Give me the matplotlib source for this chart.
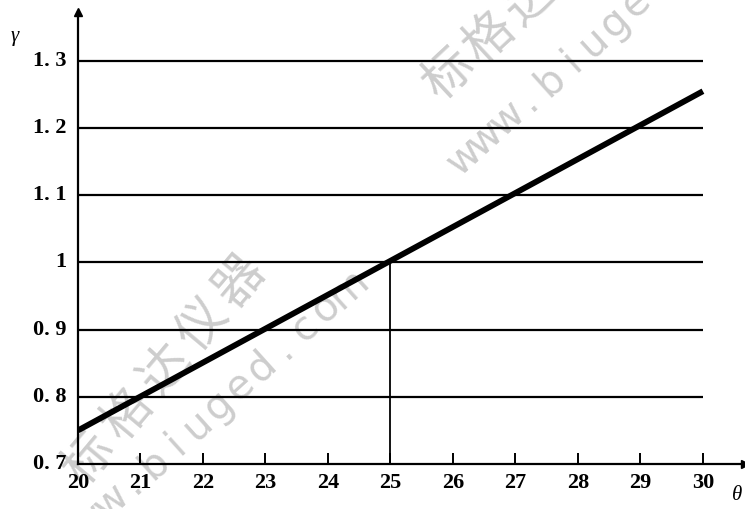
import matplotlib
matplotlib.use("Agg")
import matplotlib.pyplot as plt
import numpy as np

# Data
theta = [20, 30]
gamma = [0.75, 1.255]
grid_levels = [0.8, 0.9, 1.0, 1.1, 1.2, 1.3]
x_ticks = [21, 22, 23, 24, 25, 26, 27, 28, 29, 30]
x_labels = ["20", "21", "22", "23", "24", "25", "26", "27", "28", "29", "30"]
y_ticks = [0.7, 0.8, 0.9, 1.0, 1.1, 1.2, 1.3]
y_labels = ["0. 7", "0. 8", "0. 9", "1", "1. 1", "1. 2", "1. 3"]
ref_theta = 25
ref_gamma = 1.0

W, H = 745, 509
fig = plt.figure(figsize=(W / 100, H / 100), dpi=100)
fig.patch.set_facecolor("white")

# watermark (behind everything)
wm_color = "#cdcdcd"
def wm(text, cx, cy, step, angle, size, family):
    n = len(text)
    a = np.deg2rad(angle)
    for i, ch in enumerate(text):
        off = (i - (n - 1) / 2) * step
        x = cx + off * np.cos(a)
        y = cy - off * np.sin(a)
        fig.text(x / W, 1 - y / H, ch, fontsize=size, color=wm_color,
                 rotation=angle, ha="center", va="center",
                 family=family, zorder=0)

cjk = ["Noto Sans CJK SC", "DejaVu Sans"]
wm("标格达仪器", 165, 370, 58, 50, 36, cjk)
wm("www.biuged.com", 208, 415, 29, 42, 29, ["DejaVu Sans"])
wm("标格达仪器", 530, 0, 55, 43, 36, cjk)
wm("www.biuged.com", 604, 32, 29, 42, 29, ["DejaVu Sans"])

left, right, bottom, top = 78, 745, 464, 12
ax = fig.add_axes([left / W, 1 - bottom / H, (right - left) / W, (bottom - top) / H])
ax.patch.set_alpha(0)
ax.set_zorder(1)

xmin = 20
xmax = 20 + (right - 79) / 62.4
ymin = 0.7
ymax = 0.7 + (bottom - top) / 671.7
ax.set_xlim(xmin, xmax)
ax.set_ylim(ymin, ymax)

for s in ["top", "right"]:
    ax.spines[s].set_visible(False)
for s in ["left", "bottom"]:
    ax.spines[s].set_linewidth(1.6)
ax.plot(1, 0, ">k", transform=ax.transAxes, clip_on=False, markersize=6)
ax.plot(0, 1, "^k", transform=ax.transAxes, clip_on=False, markersize=6)

# horizontal reference lines
for g in grid_levels:
    ax.plot([theta[0], theta[1]], [g, g], color="black", lw=1.6, solid_capstyle="butt")

# vertical reference
ax.plot([ref_theta, ref_theta], [ymin, ref_gamma], color="black", lw=1.3)

# main line
ax.plot(theta, gamma, color="black", lw=4.2, solid_capstyle="butt")

serif = ["Liberation Serif", "DejaVu Serif"]
ax.set_xticks(x_ticks)
ax.set_xticklabels([])
ax.tick_params(axis="x", direction="in", length=8, width=1.4)
for i, lab in enumerate(x_labels):
    ax.text(20 + i, ymin - 0.014, lab, ha="center", va="top", fontsize=16,
            fontweight="bold", family=serif, clip_on=False)

ax.set_yticks([])
for v, lab in zip(y_ticks, y_labels):
    ax.text(-0.017, v, lab, transform=ax.get_yaxis_transform(), ha="right",
            va="center", fontsize=16, fontweight="bold", family=serif)

fig.text(15 / W, 1 - 36 / H, "γ", fontsize=15, style="italic", family=serif,
         ha="center", va="center")
fig.text(737 / W, 1 - 496 / H, "θ", fontsize=15, style="italic", family=serif,
         ha="center", va="center")

fig.savefig("out.png", dpi=100)
